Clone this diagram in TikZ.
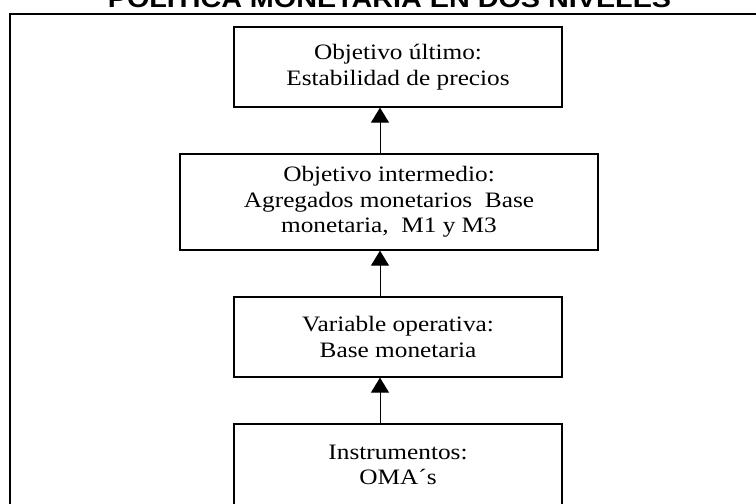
\documentclass[tikz,border=0pt]{standalone}
\usepackage{fontspec}
\setmainfont{Liberation Serif}
\newfontfamily\cajafont[FakeStretch=1.15]{Liberation Serif}
\newfontfamily\titulofont[FakeStretch=1.15]{Liberation Sans}
\usetikzlibrary{arrows.meta, positioning, calc}

\begin{document}
\begin{tikzpicture}[x=1pt, y=-1pt,
    caja/.style={draw, line width=1.3pt, align=center, inner sep=0pt,
        font=\cajafont\fontsize{22}{25.5}\selectfont},
    flecha/.style={-{Triangle[width=18pt, length=15pt]}, line width=1pt}]
    % Marco y título
    \useasboundingbox (0,0) rectangle (756,504);
    \clip (0,0) rectangle (756,504);
    \draw[line width=2pt] (10,14) rectangle (780,530);
    \node[font=\titulofont\bfseries\fontsize{25}{30}\selectfont, anchor=base, inner sep=0pt]
        (titulo) at (389.5,7) {POLÍTICA MONETARIA EN DOS NIVELES};
    
    % Cajas
    \node[caja, minimum width=328pt, minimum height=80pt] (ultimo) at (398,67)
        {Objetivo último:\\Estabilidad de precios};
    \node[caja, minimum width=418pt, minimum height=96pt] (intermedio) at (389,202)
        {Objetivo intermedio:\\Agregados monetarios\ \ Base\\monetaria,\ \ M1 y M3};
    \node[caja, minimum width=328pt, minimum height=80pt] (operativa) at (398,337)
        {Variable operativa:\\Base monetaria};
    \node[caja, minimum width=328pt, minimum height=82pt] (instrumentos) at (398,465)
        {Instrumentos:\\OMA´s};
    
    % Flechas
    \coordinate (eje) at (380,0);
    \draw[flecha] (instrumentos.north -| eje) -- (operativa.south -| eje);
    \draw[flecha] (operativa.north -| eje) -- (intermedio.south -| eje);
    \draw[flecha] (intermedio.north -| eje) -- (ultimo.south -| eje);
\end{tikzpicture}
\end{document}
